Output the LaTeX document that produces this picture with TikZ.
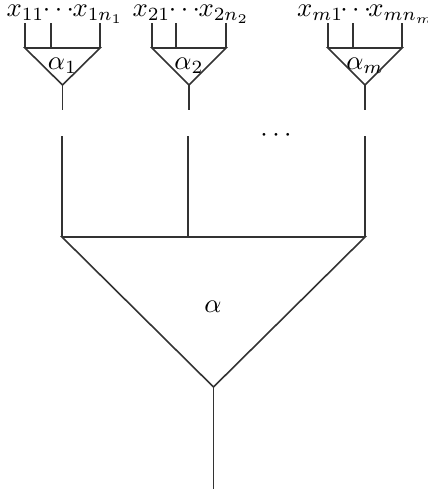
\documentclass[tikz,border=0pt]{standalone}
\begin{document}
\begin{tikzpicture}[x=0.375pt,y=-0.375pt,
  lbl/.style={inner sep=0pt,anchor=base},
  wire/.style={draw=black!80,line width=0.6pt}]
\useasboundingbox (0,0) rectangle (427,489);
% small forks
\foreach \n/\l/\m/\r/\s in {a/25/51/100/1, b/152/176/226/2, c/328/353/402/m} {
  \pgfmathsetmacro{\c}{(\l+\r)/2}
  \coordinate (\n tl) at (\l,48);
  \coordinate (\n tr) at (\r,48);
  \coordinate (\n tm) at (\m,48);
  \coordinate (\n ap) at (\c,85);
  \coordinate (\n st) at (\c,110);
  \coordinate (\n il) at (\l,23);
  \coordinate (\n im) at (\m,23);
  \coordinate (\n ir) at (\r,23);
  \draw[wire] (\n tl) -- (\n tr) -- (\n ap) -- cycle;
  \draw[wire] (\n ap) -- (\n st);
  \draw[wire] (\n il) -- (\n tl);
  \draw[wire] (\n im) -- (\n tm);
  \draw[wire] (\n ir) -- (\n tr);
  \node[lbl] (\n alpha) at (\c,69) {$\alpha_\s$};
}
\node[lbl] (xa) at (65,17) {$x_{11}\mkern-1mu{\cdots}\mkern-1mu x_{1n_1}$};
\node[lbl] (xb) at (191,17) {$x_{21}\mkern-1mu{\cdots}\mkern-1mu x_{2n_2}$};
\node[lbl] (xc) at (366,17) {$x_{m1}\mkern-2mu{\cdots}\mkern-2mu x_{mn_m}$};
% big fork
\coordinate (BL) at (62,237);
\coordinate (BM) at (188,237);
\coordinate (BR) at (365,237);
\coordinate (BA) at (213.5,387);
\coordinate (BS) at (213.5,489);
\coordinate (UL) at (62,136);
\coordinate (UM) at (188,136);
\coordinate (UR) at (365,136);
\draw[wire] (BL) -- (BR) -- (BA) -- cycle;
\draw[wire] (BA) -- (BS);
\draw[wire] (UL) -- (BL);
\draw[wire] (UM) -- (BM);
\draw[wire] (UR) -- (BR);
\node[inner sep=0pt] (dots) at (276,136) {$\cdots$};
\node[inner sep=0pt] (alpha) at (213,307) {$\alpha$};
\end{tikzpicture}
\end{document}
